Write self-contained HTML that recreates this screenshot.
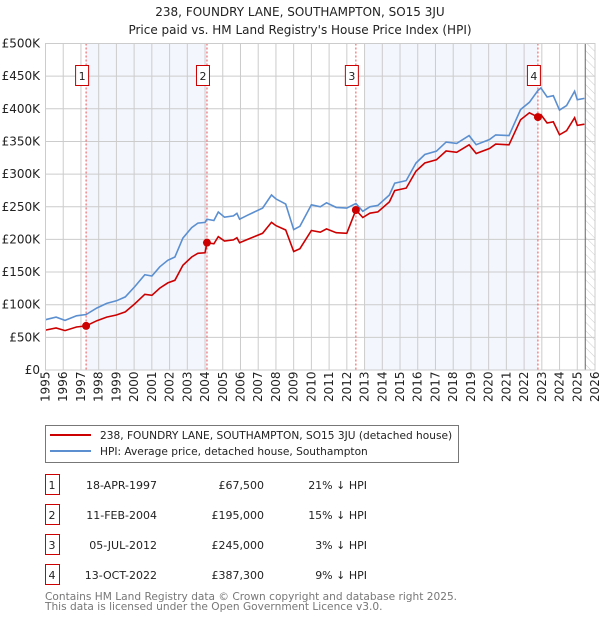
<!DOCTYPE html>
<html><head><meta charset="utf-8"><style>
body{margin:0;background:#fff;font-family:"DejaVu Sans","Liberation Sans",sans-serif}
svg text{font-family:"DejaVu Sans","Liberation Sans",sans-serif}
</style></head><body>
<svg id="c" width="600" height="620" viewBox="0 0 600 620" xmlns="http://www.w3.org/2000/svg">
<defs><pattern id="hatch" width="6" height="6" patternUnits="userSpaceOnUse" patternTransform="rotate(-45)"><line x1="0" y1="0" x2="0" y2="6" stroke="#ccc" stroke-width="1"/></pattern></defs>
<text x="300" y="16" text-anchor="middle" font-size="12" fill="#222">238, FOUNDRY LANE, SOUTHAMPTON, SO15 3JU</text>
<text x="300" y="34" text-anchor="middle" font-size="12" fill="#222">Price paid vs. HM Land Registry's House Price Index (HPI)</text>
<g id="plot"></g>
<g>
<rect x="45.5" y="425.5" width="413" height="37" fill="#fff" stroke="#777"/>
<line x1="50" y1="435" x2="91" y2="435" stroke="#cc0000" stroke-width="2"/>
<text x="100" y="439" font-size="10.6" fill="#222">238, FOUNDRY LANE, SOUTHAMPTON, SO15 3JU (detached house)</text>
<line x1="50" y1="451" x2="91" y2="451" stroke="#5b8fd0" stroke-width="2"/>
<text x="100" y="455" font-size="10.6" fill="#222">HPI: Average price, detached house, Southampton</text>
</g>
<g id="table" font-size="11" fill="#222"></g>
<text x="45" y="600" font-size="10.6" fill="#777">Contains HM Land Registry data © Crown copyright and database right 2025.</text>
<text x="45" y="610" font-size="10.6" fill="#777">This data is licensed under the Open Government Licence v3.0.</text>
</svg>
<script>
const hpiYears=[1995,1995.6,1996.1,1996.75,1997.29,1997.9,1998.45,1999,1999.5,2000.05,2000.6,2001,2001.45,2001.9,2002.3,2002.75,2003.25,2003.6,2004.0,2004.11,2004.5,2004.75,2005.1,2005.6,2005.8,2005.95,2006.4,2007.25,2007.75,2008.0,2008.55,2009.0,2009.35,2010.0,2010.5,2010.85,2011.4,2012.0,2012.51,2012.9,2013.3,2013.75,2014.4,2014.7,2015.35,2015.9,2016.4,2017.05,2017.6,2018.2,2018.9,2019.3,2020.05,2020.4,2021.15,2021.8,2022.3,2022.78,2022.95,2023.3,2023.65,2024.0,2024.4,2024.85,2025.0,2025.4];
const hpiValues=[77,81,76,83,85,95,102,106,112,128,146,144,158,168,173,202,218,225,226,231,229,242,234,236,240,231,237,248,268,262,254,215,220,253,250,256,249,248,255,243,250,252,268,286,290,317,330,335,349,347,359,345,353,360,359,399,410,428,432,418,420,398,405,427,414,416];
const saleYears=[1997.29,2004.11,2012.51,2022.78];
const salePrices=[67.5,195,245,387.3];
const saleLabels=["1","2","3","4"];
const saleDates=["18-APR-1997","11-FEB-2004","05-JUL-2012","13-OCT-2022"];
const salePriceText=["£67,500","£195,000","£245,000","£387,300"];
const saleDiffText=["21% ↓ HPI","15% ↓ HPI","3% ↓ HPI","9% ↓ HPI"];
const yTicks=[0,50,100,150,200,250,300,350,400,450,500];
const yTickLabels=["£0","£50K","£100K","£150K","£200K","£250K","£300K","£350K","£400K","£450K","£500K"];
const xTicks=[1995,1996,1997,1998,1999,2000,2001,2002,2003,2004,2005,2006,2007,2008,2009,2010,2011,2012,2013,2014,2015,2016,2017,2018,2019,2020,2021,2022,2023,2024,2025,2026];

const NS="http://www.w3.org/2000/svg";
const L=45.5,R=595,T=43.5,B=370;
const X=y=>L+(y-1995)*(R-L)/31;
const Y=v=>B-v*(B-T)/500;
const plot=document.getElementById('plot');
function mk(tag,attrs,parent){const e=document.createElementNS(NS,tag);for(const k in attrs)e.setAttribute(k,attrs[k]);(parent||plot).appendChild(e);return e;}
function hpiAt(t){for(let i=0;i<hpiYears.length-1;i++){if(t>=hpiYears[i]&&t<=hpiYears[i+1]){const f=(t-hpiYears[i])/(hpiYears[i+1]-hpiYears[i]);return hpiValues[i]+f*(hpiValues[i+1]-hpiValues[i]);}}return hpiValues[hpiValues.length-1];}

let s=mk('rect',{x:X(saleYears[0]),y:T,width:X(saleYears[1])-X(saleYears[0]),height:B-T,fill:'#f3f6fd'});


s=mk('rect',{x:X(2013),y:T,width:X(saleYears[3])-X(2013),height:B-T,fill:'#f3f6fd'});


s=mk('rect',{x:X(2025.45),y:T,width:R-X(2025.45),height:B-T,fill:'url(#hatch)'});


yTicks.forEach((v,i)=>{
 const g=mk('line',{x1:L,x2:R,y1:Y(v),y2:Y(v),stroke:'#ccc','stroke-width':1});
 
 
 const t=mk('text',{x:40,y:Y(v)+4,'text-anchor':'end','font-size':12,fill:'#222'});
 t.textContent=yTickLabels[i];
 
 
});
xTicks.forEach(yr=>{
 const g=mk('line',{x1:X(yr),x2:X(yr),y1:T,y2:B,stroke:'#ccc','stroke-width':1});
 
 
 const t=mk('text',{transform:`translate(${X(yr)+4},${B+32}) rotate(-90)`,'font-size':12,fill:'#222'});
 t.textContent=yr;
 
 
});
mk('line',{x1:X(2025.45),x2:X(2025.45),y1:T,y2:B,stroke:'#666','stroke-width':1});
saleYears.forEach((yr,i)=>{
 const l=mk('line',{x1:X(yr),x2:X(yr),y1:T,y2:B,stroke:'#f05050','stroke-width':1,'stroke-dasharray':'2,2'});
 
 
 const bx=X(yr)-10.5;
 const r=mk('rect',{x:bx,y:65.5,width:13,height:20,fill:'#fff',stroke:'#cc0000'});
 
 
 const t=mk('text',{x:bx+6.5,y:80,'text-anchor':'middle','font-size':11,fill:'#222'});
 t.textContent=saleLabels[i];
 
 
});
let d=hpiYears.map((y,i)=>(i?'L':'M')+X(y).toFixed(1)+','+Y(hpiValues[i]).toFixed(1)).join('');
let p=mk('path',{d,fill:'none',stroke:'#5b8fd0','stroke-width':1.6});


function ratioAt(t){let k=0;for(let i=0;i<saleYears.length;i++)if(t>=saleYears[i])k=i;return salePrices[k]/hpiAt(saleYears[k]);}
d=hpiYears.map((y,i)=>(i?'L':'M')+X(y).toFixed(1)+','+Y(hpiValues[i]*ratioAt(y)).toFixed(1)).join('');
p=mk('path',{d,fill:'none',stroke:'#cc0000','stroke-width':1.6});


saleYears.forEach((yr,i)=>{
 const c=mk('circle',{cx:X(yr),cy:Y(salePrices[i]),r:4,fill:'#cc0000'});
 
 
});
mk('rect',{x:L,y:T,width:R-L,height:B-T,fill:'none',stroke:'#ccc'});
const tb=document.getElementById('table');
saleYears.forEach((yr,i)=>{
 const cy=485+i*30;
 const r=mk('rect',{x:45.5,y:cy-10.5,width:14,height:20,fill:'#fff',stroke:'#cc0000'},tb);
 
 
 const vals=[[saleLabels[i],52,'middle'],[saleDates[i],157,'end'],[salePriceText[i],264,'end'],[saleDiffText[i],367,'end']];
 vals.forEach((v,j)=>{
  const t=mk('text',{x:v[1],y:cy+4,'text-anchor':v[2]},tb);
  t.textContent=v[0];
  
  
 });
});
</script>
</body></html>
